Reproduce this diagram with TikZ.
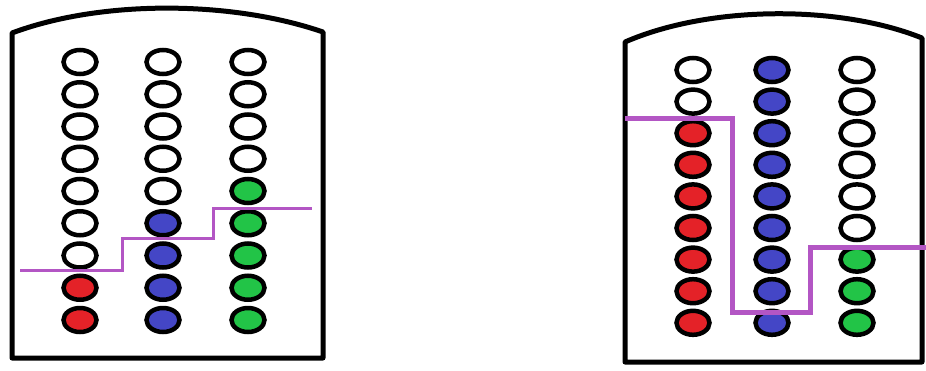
\documentclass[tikz,border=0pt]{standalone}
\usepackage{tikz}
\definecolor{beadred}{HTML}{E42228}
\definecolor{beadblue}{HTML}{4446C6}
\definecolor{beadgreen}{HTML}{22C447}
\definecolor{levelline}{HTML}{B356C4}

\begin{document}
\begin{tikzpicture}[x=1pt, y=-1pt,
    board/.style={line width=5pt, line join=round},
    bead/.style={draw=black, line width=4.5pt},
    level/.style={levelline, line width=3pt}]
    \useasboundingbox (0,0) rectangle (926,370);
    % Left board
    \draw[board] (12,358) -- (12,33) .. controls (100,0) and (230,0) .. (323,32) -- (323,358) -- cycle;
    % Beads, left board (x / empty beads / colour)
    \foreach \x/\k/\c in {80/7/beadred, 163/5/beadblue, 248/4/beadgreen}
      \foreach \i in {0,...,8}{
        \pgfmathsetmacro{\yy}{62+32.25*\i}
        \ifnum\i<\k \def\fc{white}\else\def\fc{\c}\fi
        \filldraw[bead, fill=\fc] (\x,\yy) ellipse [x radius=16.5pt, y radius=12pt];
      }
    % Level line, left board
    \draw[level] (20,270) -- (122,270) -- (122,238) -- (213,238) -- (213,208) -- (312,208);

    % Right board
    \draw[board] (625,362) -- (625,42) .. controls (710,5) and (840,5) .. (922,38) -- (922,362) -- cycle;
    % Beads, right board
    \foreach \x/\k/\c in {693/2/beadred, 772/0/beadblue, 857/6/beadgreen}
      \foreach \i in {0,...,8}{
        \pgfmathsetmacro{\yy}{70+31.6*\i}
        \ifnum\i<\k \def\fc{white}\else\def\fc{\c}\fi
        \filldraw[bead, fill=\fc] (\x,\yy) ellipse [x radius=16.5pt, y radius=12pt];
      }
    % Level line, right board
    \draw[level, line width=5pt] (625,118) -- (732,118) -- (732,312) -- (810,312) -- (810,247) -- (926,247);
\end{tikzpicture}
\end{document}
